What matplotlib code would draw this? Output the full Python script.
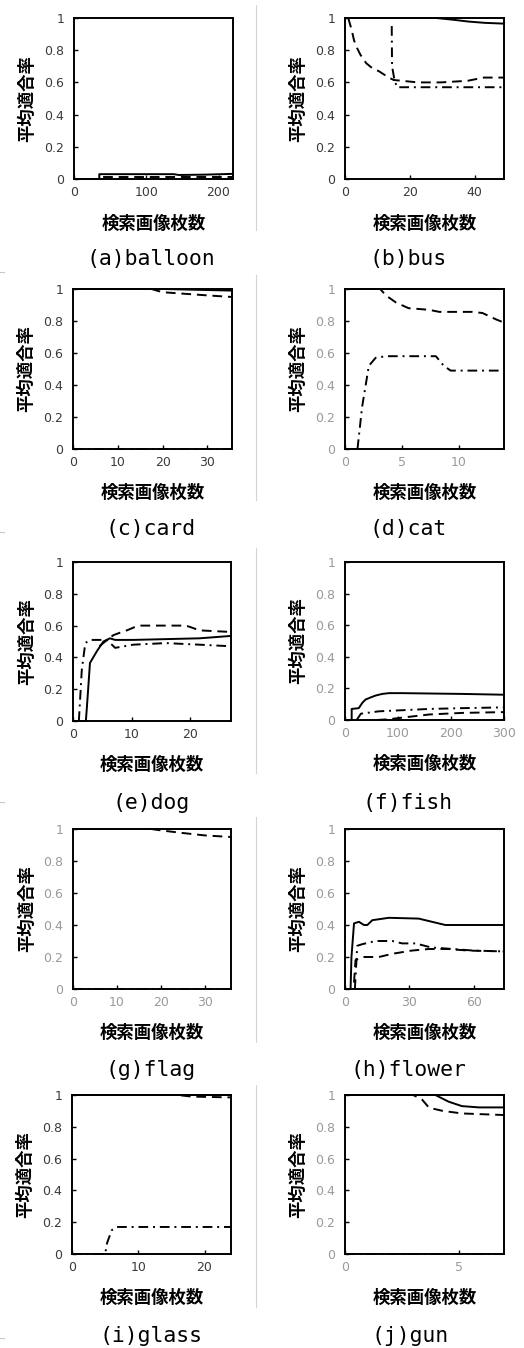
import matplotlib
matplotlib.use('Agg')
import matplotlib.pyplot as plt
from matplotlib.lines import Line2D

plt.rcParams['font.family'] = ['DejaVu Sans']

# ---- data ----
captions = ['(a)balloon', '(b)bus', '(c)card', '(d)cat', '(e)dog',
            '(f)fish', '(g)flag', '(h)flower', '(i)glass', '(j)gun']
x_max = [220, 49, 35.5, 14, 27, 300, 36, 74, 24, 7]
x_ticks = [[0, 100, 200], [0, 20, 40], [0, 10, 20, 30], [0, 5, 10], [0, 10, 20],
           [0, 100, 200, 300], [0, 10, 20, 30], [0, 30, 60], [0, 10, 20], [0, 5]]
y_ticks = [0, 0.2, 0.4, 0.6, 0.8, 1]
y_tick_labels = ['0', '0.2', '0.4', '0.6', '0.8', '1']
dark_labels = [True, True, True, False, True, False, False, False, True, False]

# (a) balloon
balloon_solid_x = [0, 35, 35, 138, 145, 180, 220]
balloon_solid_y = [0, 0, 0.03, 0.03, 0.025, 0.027, 0.032]
balloon_dash_x = [0, 36, 36, 220]
balloon_dash_y = [0, 0, 0.012, 0.012]
balloon_dashdot_x = [0, 220]
balloon_dashdot_y = [0, 0]

# (b) bus
bus_solid_x = [0, 28, 33, 38, 43, 49]
bus_solid_y = [1, 1, 0.99, 0.978, 0.97, 0.965]
bus_dash_x = [1, 2, 2.8, 3.8, 4.8, 6.5, 8.3, 10.4, 13.5, 15, 17.5, 22.5, 29.6, 37.8, 42.8, 49]
bus_dash_y = [1, 0.93, 0.86, 0.81, 0.77, 0.72, 0.69, 0.67, 0.63, 0.615, 0.61, 0.60, 0.60, 0.61, 0.63, 0.63]
bus_dashdot_x = [14.4, 14.5, 15.2, 16, 49]
bus_dashdot_y = [0.95, 0.7, 0.62, 0.57, 0.57]

# (c) card
card_solid_x = [0, 20, 35.5]
card_solid_y = [1, 1, 0.99]
card_dash_x = [0, 17.5, 20, 25, 30, 35.5]
card_dash_y = [1, 1, 0.98, 0.97, 0.96, 0.95]
card_dashdot_x = [0, 35.5]
card_dashdot_y = [0, 0]

# (d) cat
cat_solid_x = [0, 14]
cat_solid_y = [1, 1]
cat_dash_x = [0, 3.1, 3.6, 4.5, 5.6, 7.4, 8.3, 11.2, 12.1, 13.3, 14]
cat_dash_y = [1, 1, 0.96, 0.915, 0.88, 0.87, 0.857, 0.857, 0.85, 0.81, 0.79]
cat_dashdot_x = [1.1, 1.5, 2.1, 2.7, 3.6, 8.0, 8.7, 9.3, 14]
cat_dashdot_y = [0, 0.26, 0.52, 0.57, 0.58, 0.58, 0.52, 0.49, 0.49]

# (e) dog
dog_solid_x = [0, 2.2, 2.4, 2.9, 4.1, 5.2, 6.3, 7.2, 10.3, 15.9, 21.6, 27]
dog_solid_y = [0, 0, 0.1, 0.365, 0.44, 0.5, 0.52, 0.51, 0.51, 0.515, 0.52, 0.535]
dog_dash_x = [4.5, 5.5, 6.9, 8, 9.2, 10.5, 11.4, 15, 19.3, 20.5, 21.6, 27]
dog_dash_y = [0.47, 0.5, 0.54, 0.555, 0.57, 0.59, 0.6, 0.6, 0.6, 0.585, 0.57, 0.56]
dog_dashdot_x = [1, 1.5, 2.1, 2.9, 5.8, 7.2, 10.3, 15.9, 21.6, 27]
dog_dashdot_y = [0, 0.32, 0.49, 0.51, 0.51, 0.46, 0.48, 0.49, 0.48, 0.47]

# (f) fish
fish_solid_x = [0, 12.6, 12.6, 26, 33, 39, 50, 58, 70, 83, 108, 222, 300]
fish_solid_y = [0, 0, 0.07, 0.075, 0.11, 0.13, 0.145, 0.155, 0.165, 0.17, 0.17, 0.165, 0.16]
fish_dash_x = [60, 83, 108, 159, 222, 300]
fish_dash_y = [0, 0.005, 0.015, 0.035, 0.045, 0.05]
fish_dashdot_x = [22, 30, 64, 96, 159, 222, 300]
fish_dashdot_y = [0, 0.04, 0.055, 0.06, 0.07, 0.075, 0.08]

# (g) flag
flag_solid_x = [0, 36]
flag_solid_y = [1, 1]
flag_dash_x = [0, 17.8, 20.4, 25, 30, 36]
flag_dash_y = [1, 1, 0.99, 0.975, 0.96, 0.95]
flag_dashdot_x = [0, 36]
flag_dashdot_y = [0, 0]

# (h) flower
flower_solid_x = [0, 2.6, 3.0, 4.2, 6.5, 8.8, 10.4, 12.7, 20.4, 34.3, 40.5, 46.7, 54.4, 74]
flower_solid_y = [0, 0, 0.2, 0.41, 0.42, 0.40, 0.40, 0.43, 0.445, 0.44, 0.42, 0.40, 0.40, 0.40]
flower_dash_x = [4.2, 4.9, 8, 15.8, 22, 31, 39, 48, 57.5, 74]
flower_dash_y = [0.04, 0.18, 0.2, 0.2, 0.22, 0.24, 0.25, 0.25, 0.24, 0.235]
flower_dashdot_x = [4.6, 5.7, 8, 14.2, 22, 26.6, 32.8, 40, 50, 60, 74]
flower_dashdot_y = [0, 0.27, 0.28, 0.30, 0.30, 0.285, 0.285, 0.26, 0.25, 0.24, 0.235]

# (i) glass
glass_solid_x = [0, 24]
glass_solid_y = [1, 1]
glass_dash_x = [0, 16, 18, 24]
glass_dash_y = [1, 1, 0.99, 0.985]
glass_dashdot_x = [0, 5, 5.3, 6, 6.8, 24]
glass_dashdot_y = [0, 0, 0.07, 0.15, 0.17, 0.17]

# (j) gun
gun_solid_x = [0, 3.98, 4.56, 5.15, 5.9, 7]
gun_solid_y = [1, 1, 0.958, 0.93, 0.922, 0.922]
gun_dash_x = [0, 3.0, 3.4, 3.7, 4.3, 5.15, 7]
gun_dash_y = [1, 1, 0.97, 0.92, 0.9, 0.884, 0.874]
gun_dashdot_x = [0, 7]
gun_dashdot_y = [0, 0]

series = [
    [(balloon_solid_x, balloon_solid_y), (balloon_dash_x, balloon_dash_y), (balloon_dashdot_x, balloon_dashdot_y)],
    [(bus_solid_x, bus_solid_y), (bus_dash_x, bus_dash_y), (bus_dashdot_x, bus_dashdot_y)],
    [(card_solid_x, card_solid_y), (card_dash_x, card_dash_y), (card_dashdot_x, card_dashdot_y)],
    [(cat_solid_x, cat_solid_y), (cat_dash_x, cat_dash_y), (cat_dashdot_x, cat_dashdot_y)],
    [(dog_solid_x, dog_solid_y), (dog_dash_x, dog_dash_y), (dog_dashdot_x, dog_dashdot_y)],
    [(fish_solid_x, fish_solid_y), (fish_dash_x, fish_dash_y), (fish_dashdot_x, fish_dashdot_y)],
    [(flag_solid_x, flag_solid_y), (flag_dash_x, flag_dash_y), (flag_dashdot_x, flag_dashdot_y)],
    [(flower_solid_x, flower_solid_y), (flower_dash_x, flower_dash_y), (flower_dashdot_x, flower_dashdot_y)],
    [(glass_solid_x, glass_solid_y), (glass_dash_x, glass_dash_y), (glass_dashdot_x, glass_dashdot_y)],
    [(gun_solid_x, gun_solid_y), (gun_dash_x, gun_dash_y), (gun_dashdot_x, gun_dashdot_y)],
]

# ---- layout (pixel boxes: left, top, right, bottom) ----
W, H = 524, 1348
boxes = [(74, 18, 233, 179), (345, 18, 504, 179),
         (73, 289, 232, 449), (345, 289, 504, 449),
         (73, 562, 231, 721), (345, 562, 504, 720),
         (73, 829, 231, 989), (345, 829, 504, 989),
         (72, 1095, 231, 1254), (345, 1095, 504, 1254)]
caption_pos = [(151, 259), (408, 259), (151, 529), (408, 529), (151, 803),
               (408, 803), (151, 1070), (408, 1070), (151, 1336), (410, 1336)]
styles = ['-', (0, (5, 3)), (0, (5, 2.5, 1, 2.5))]

fig = plt.figure(figsize=(W / 100, H / 100), dpi=100)

for i in range(10):
    l, t, r, b = boxes[i]
    ax = fig.add_axes([l / W, 1 - b / H, (r - l) / W, (b - t) / H])
    for (xs, ys), ls in zip(series[i], styles):
        ax.plot(xs, ys, color='black', lw=1.4, linestyle=ls, clip_on=False)
    ax.set_xlim(0, x_max[i])
    ax.set_ylim(0, 1)
    ax.set_xticks(x_ticks[i])
    ax.set_yticks(y_ticks)
    ax.set_yticklabels(y_tick_labels)
    lc = '#3a3a3a' if dark_labels[i] else '#9a9a9a'
    ax.tick_params(direction='in', length=3, width=1, labelsize=9,
                   labelcolor=lc, pad=5)
    ax.tick_params(axis='y', pad=7)
    for sp in ax.spines.values():
        sp.set_linewidth(1.4)
    ax.set_ylabel('平均適合率', family='Noto Sans CJK JP', fontweight='bold', fontsize=12.5)
    ax.yaxis.set_label_coords(-0.235, 0.5)
    ax.set_xlabel('検索画像枚数', family='Noto Sans CJK JP', fontweight='bold', fontsize=12.5)
    ax.xaxis.set_label_coords(0.5, -0.22)
    cx, cy = caption_pos[i]
    fig.text(cx / W, 1 - cy / H, captions[i], ha='center', va='center',
             family='DejaVu Sans Mono', fontsize=15.4)

# thin grey separators left over from the source layout
for y0, y1 in [(5, 230), (275, 500), (548, 773), (817, 1042), (1085, 1307)]:
    fig.add_artist(Line2D([256 / W, 256 / W], [1 - y0 / H, 1 - y1 / H],
                          color='#d4d4d4', lw=0.8))
for y0 in [272, 532, 802, 1338]:
    fig.add_artist(Line2D([0, 4 / W], [1 - y0 / H, 1 - y0 / H], color='#c8c8c8', lw=0.8))

fig.savefig('out.png', dpi=100)
